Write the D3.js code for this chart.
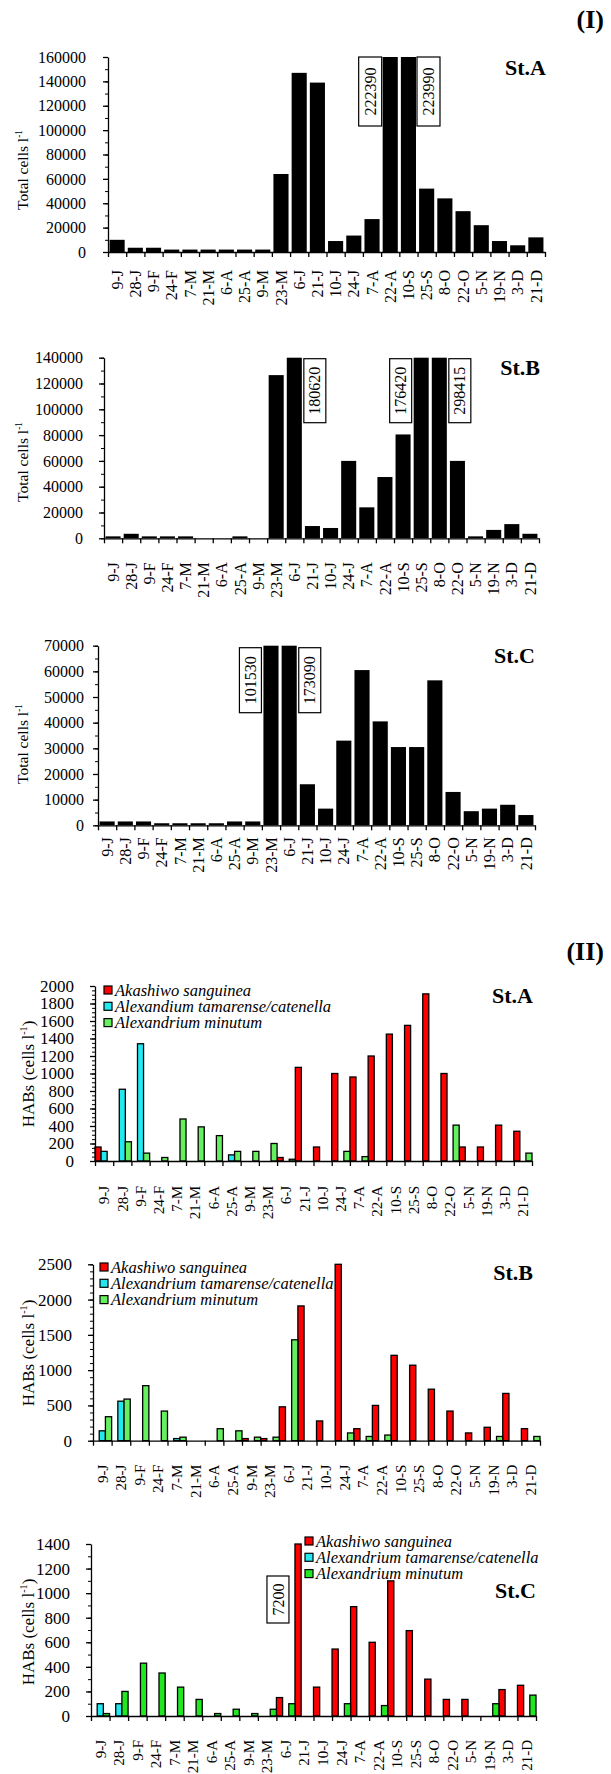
<!DOCTYPE html>
<html>
<head>
<meta charset="utf-8">
<script src="https://cdn.jsdelivr.net/npm/d3@7"></script>
<style>
body { margin: 0; background: #fff; }
svg { display: block; font-family: "Liberation Serif", "Times New Roman", serif; }
</style>
</head>
<body>
<div class="chart"></div>
<script>
// sampling dates (day-month initial)
const dates = ["9-J", "28-J", "9-F", "24-F", "7-M", "21-M", "6-A", "25-A", "9-M", "23-M", "6-J", "21-J",
    "10-J", "24-J", "7-A", "22-A", "10-S", "25-S", "8-O", "22-O", "5-N", "19-N", "3-D", "21-D"];

// (I) total cells l-1
const totalA = [10000, 3500, 3500, 2000, 2000, 2000, 2000, 2000, 2000, 64000, 147000, 139000,
    9000, 13500, 27000, 222390, 223990, 52000, 44000, 33500, 22000, 9000, 5500, 12000];
const totalB = [1500, 3500, 1500, 1500, 1500, 0, 0, 1500, 0, 126500, 180620, 9500,
    8000, 60000, 24000, 47500, 80500, 176420, 298415, 60000, 1500, 6500, 11000, 3500];
const totalC = [1500, 1500, 1500, 800, 800, 800, 800, 1500, 1500, 101530, 173090, 16000,
    6500, 33000, 60500, 40500, 30500, 30500, 56500, 13000, 5500, 6500, 8000, 4000];

// bars that run off the top get a boxed value: [date, side]
const calloutsA = [["22-A", -1], ["10-S", 1]];
const calloutsB = [["6-J", 1], ["25-S", -1], ["8-O", 1]];
const calloutsC = [["23-M", -1], ["6-J", 1]];

// (II) HABs cells l-1
const akashiwoA = [160, 0, 0, 0, 0, 0, 0, 0, 0, 0, 40, 1070, 160, 1000, 960, 1200, 1450, 1550, 1910, 1000, 160, 160, 410, 340];
const tamarenseA = [110, 820, 1340, 0, 0, 0, 0, 70, 0, 0, 0, 0, 0, 0, 0, 0, 0, 0, 0, 0, 0, 0, 0, 0];
const minutumA = [0, 220, 90, 40, 480, 390, 290, 110, 110, 200, 20, 0, 0, 110, 50, 0, 0, 0, 0, 410, 0, 0, 0, 90];

const akashiwoB = [0, 0, 0, 0, 0, 0, 0, 0, 30, 30, 480, 1910, 280, 2500, 170, 500, 1210, 1070, 730, 420, 110, 190, 670, 170];
const tamarenseB = [140, 560, 0, 0, 30, 0, 0, 0, 0, 0, 0, 0, 0, 0, 0, 0, 0, 0, 0, 0, 0, 0, 0, 0];
const minutumB = [340, 590, 780, 420, 50, 0, 170, 140, 50, 50, 1430, 0, 0, 110, 60, 80, 0, 0, 0, 0, 0, 60, 0, 60];

const akashiwoC = [0, 0, 0, 0, 0, 0, 0, 0, 0, 0, 150, 7200, 235, 545, 890, 600, 1100, 695, 300, 135, 135, 0, 215, 250];
const tamarenseC = [100, 100, 0, 0, 0, 0, 0, 0, 0, 0, 0, 0, 0, 0, 0, 0, 0, 0, 0, 0, 0, 0, 0, 0];
const minutumC = [20, 200, 430, 350, 235, 135, 20, 55, 20, 55, 100, 0, 0, 100, 0, 85, 0, 0, 0, 0, 0, 100, 0, 170];
const calloutsHabsC = [["21-J", -1]];

const speciesA = ["Akashiwo sanguinea", "Alexandium tamarense/catenella", "Alexandrium minutum"];
const speciesBC = ["Akashiwo sanguinea", "Alexandrium tamarense/catenella", "Alexandrium minutum"];

const w = 611;
const h = 1774;
const serif = '"Liberation Serif", "Times New Roman", serif';

const svg = d3.select(".chart")
    .append("svg")
    .attr("width", w)
    .attr("height", h);

svg.append("rect").attr("width", w).attr("height", h).attr("fill", "#fff");

const drawAxes = (g, p, x, y) => {
    // minor ticks
    g.append("g")
        .attr("transform", "translate(" + p.left + ",0)")
        .call(d3.axisLeft(y).tickValues(d3.range(0, p.max + 1, p.minor)).tickSize(3).tickFormat(""))
        .call(a => a.select(".domain").remove());

    const yAxis = g.append("g")
        .attr("transform", "translate(" + p.left + ",0)")
        .call(d3.axisLeft(y)
            .tickValues(d3.range(0, p.max + 1, p.step))
            .tickSize(5)
            .tickSizeOuter(0)
            .tickPadding(p.ypad)
            .tickFormat(d3.format("d")))
        .attr("font-family", serif)
        .attr("font-size", p.yfont);
    yAxis.selectAll("path, line").attr("stroke", "#000").attr("stroke-width", 1.3);
    yAxis.selectAll("text").attr("fill", "#000");

    // boundary ticks between dates
    const xi = d3.scaleLinear().domain([0, dates.length]).range([p.left, p.right]);
    g.append("g")
        .attr("transform", "translate(0," + p.bottom + ")")
        .call(d3.axisBottom(xi).tickValues(d3.range(0, dates.length + 1)).tickSize(5).tickSizeOuter(0).tickFormat(""))
        .selectAll("path, line").attr("stroke", "#000").attr("stroke-width", 1.3);

    const xAxis = g.append("g")
        .attr("transform", "translate(0," + p.bottom + ")")
        .call(d3.axisBottom(x).tickSize(0))
        .attr("font-family", serif)
        .attr("font-size", p.xfont);
    xAxis.select(".domain").remove();
    xAxis.selectAll("text")
        .attr("fill", "#000")
        .attr("transform", "rotate(-90)")
        .attr("x", -p.xgap)
        .attr("y", 0)
        .attr("dy", "0.35em")
        .attr("text-anchor", "end");

    // axis title
    const t = g.append("text")
        .attr("transform", "translate(" + p.titleX + "," + p.titleY + ") rotate(-90)")
        .attr("text-anchor", "middle")
        .attr("dy", "0.35em")
        .attr("font-size", p.titleFont)
        .text(p.title);
    t.append("tspan").attr("font-size", p.titleFont * 0.6).attr("dy", "-0.7em").text("-1");
    if (p.titleTail) t.append("tspan").attr("dy", "0.42em").text(p.titleTail);

    g.append("text")
        .attr("x", p.stRight)
        .attr("y", p.stY)
        .attr("text-anchor", "end")
        .attr("font-weight", "bold")
        .attr("font-size", 22)
        .text(p.station);
};

const drawCallouts = (g, p, xLeft, bw, list, values) => {
    list.forEach(([d, side]) => {
        const v = values[dates.indexOf(d)];
        const bx = side < 0 ? xLeft(d) - p.boxGap - p.boxW : xLeft(d) + bw + p.boxGap;
        const by = p.top + p.boxOff;
        g.append("rect")
            .attr("x", bx).attr("y", by)
            .attr("width", p.boxW).attr("height", p.boxH)
            .attr("fill", "#fff").attr("stroke", "#000").attr("stroke-width", 1.2);
        g.append("text")
            .attr("transform", "translate(" + (bx + p.boxW / 2) + "," + (by + p.boxH / 2) + ") rotate(-90)")
            .attr("text-anchor", "middle")
            .attr("dy", "0.35em")
            .attr("font-size", 16)
            .text(v);
    });
};

const totalPanel = (values, callouts, p) => {
    const g = svg.append("g");
    const x = d3.scaleBand().domain(dates).range([p.left, p.right]).paddingInner(0.17).paddingOuter(0.085);
    const y = d3.scaleLinear().domain([0, p.max]).range([p.bottom, p.top]);

    g.selectAll("rect.bar")
        .data(dates.map((d, i) => ({ d, v: values[i] })).filter(o => o.v > 0))
        .enter()
        .append("rect")
        .attr("class", "bar")
        .attr("x", o => x(o.d))
        .attr("width", x.bandwidth())
        .attr("y", o => y(Math.min(o.v, p.max)))
        .attr("height", o => p.bottom - y(Math.min(o.v, p.max)))
        .attr("fill", "#000");

    drawAxes(g, p, x, y);
    drawCallouts(g, p, d => x(d), x.bandwidth(), callouts, values);
};

const habsPanel = (series, names, callouts, p) => {
    const g = svg.append("g");
    const x = d3.scaleBand().domain(dates).range([p.left, p.right]).padding(0);
    const sub = d3.scaleBand().domain([0, 1, 2]).range([0, x.bandwidth()]).padding(0);
    const y = d3.scaleLinear().domain([0, p.max]).range([p.bottom, p.top]);
    const colors = ["#ff0000", "#22e8f0", p.green];

    series.forEach((vals, k) => {
        g.selectAll("rect.s" + k)
            .data(dates.map((d, i) => ({ d, v: vals[i] })).filter(o => o.v > 0))
            .enter()
            .append("rect")
            .attr("class", "s" + k)
            .attr("x", o => x(o.d) + sub(k))
            .attr("width", sub.bandwidth())
            .attr("y", o => y(Math.min(o.v, p.max)))
            .attr("height", o => p.bottom - y(Math.min(o.v, p.max)))
            .attr("fill", colors[k])
            .attr("stroke", "#000")
            .attr("stroke-width", 1.3);
    });

    drawAxes(g, p, x, y);
    if (callouts) drawCallouts(g, p, d => x(d) + sub(0), sub.bandwidth(), callouts, series[0]);

    // legend
    names.forEach((n, k) => {
        const cy = p.legY + k * p.legStep;
        g.append("rect")
            .attr("x", p.legX).attr("y", cy - 4)
            .attr("width", 8).attr("height", 8)
            .attr("fill", colors[k]).attr("stroke", "#000").attr("stroke-width", 1.2);
        g.append("text")
            .attr("x", p.legX + 11).attr("y", cy + 5.5)
            .attr("font-style", "italic")
            .attr("font-size", 16.5)
            .text(n);
    });
};

const partLabel = (txt, y) => svg.append("text")
    .attr("x", 604).attr("y", y)
    .attr("text-anchor", "end")
    .attr("font-weight", "bold")
    .attr("font-size", 26)
    .text(txt);

partLabel("(I)", 28);

const baseTotal = { step: 20000, minor: 10000, ypad: 17, yfont: 16, xfont: 16, titleFont: 15.5,
    title: "Total cells l", titleX: 23, boxGap: 1, boxW: 23 };

totalPanel(totalA, calloutsA, Object.assign({}, baseTotal, {
    left: 108, right: 545, top: 57, bottom: 252, max: 160000, xgap: 18,
    titleY: 170, station: "St.A", stRight: 546, stY: 75, boxOff: 0, boxH: 69 }));

totalPanel(totalB, calloutsB, Object.assign({}, baseTotal, {
    left: 104, right: 539, top: 357.7, bottom: 538.3, max: 140000, xgap: 24, ypad: 16,
    titleY: 462, station: "St.B", stRight: 540, stY: 375, boxOff: 1, boxH: 64, boxW: 22, boxGap: 2 }));

totalPanel(totalC, calloutsC, Object.assign({}, baseTotal, {
    left: 98, right: 535, top: 645.7, bottom: 825.3, max: 70000, step: 10000, minor: 5000, xgap: 12, ypad: 9,
    titleY: 744, station: "St.C", stRight: 535, stY: 663, boxOff: 2, boxH: 65, boxW: 22, boxGap: 2 }));

partLabel("(II)", 960);

const baseHabs = { ypad: 16, yfont: 17, xfont: 15, titleFont: 17, title: "HABs (cells l", titleTail: ")",
    titleX: 28, xgap: 25, legStep: 16.3, green: "#66f060" };

habsPanel([akashiwoA, tamarenseA, minutumA], speciesA, null, Object.assign({}, baseHabs, {
    left: 95, right: 532, top: 986, bottom: 1161, max: 2000, step: 200, minor: 50,
    titleY: 1074, station: "St.A", stRight: 533, stY: 1003, legX: 104, legY: 990 }));

habsPanel([akashiwoB, tamarenseB, minutumB], speciesBC, null, Object.assign({}, baseHabs, {
    left: 93, right: 540, top: 1264.3, bottom: 1440.7, max: 2500, step: 500, minor: 100,
    titleY: 1353, station: "St.B", stRight: 533, stY: 1280, legX: 100, legY: 1267, xgap: 24 }));

habsPanel([akashiwoC, tamarenseC, minutumC], speciesBC, calloutsHabsC, Object.assign({}, baseHabs, {
    left: 91, right: 536, top: 1544, bottom: 1716, max: 1400, step: 200, minor: 100,
    titleY: 1632, station: "St.C", stRight: 536, stY: 1598, legX: 305, legY: 1541, xgap: 24,
    green: "#22e822", boxOff: 32, boxH: 47, boxW: 22, boxGap: 6 }));
</script>
</body>
</html>
